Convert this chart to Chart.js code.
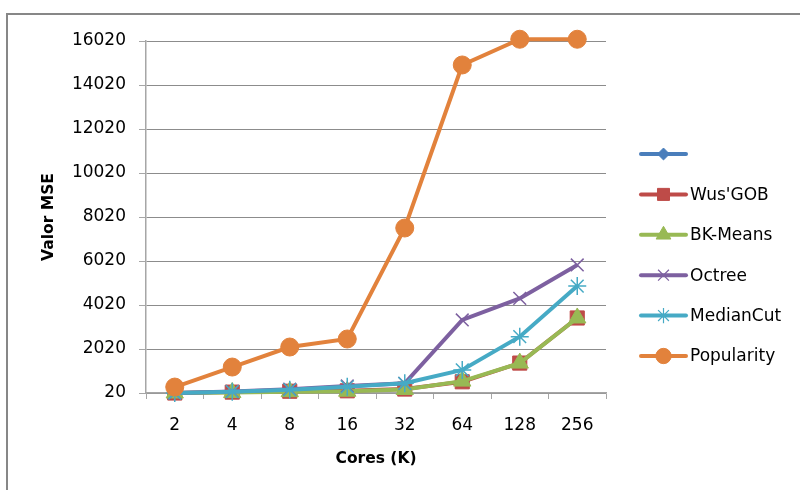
<!DOCTYPE html>
<html>
<head>
<meta charset="utf-8">
<script src="https://cdn.jsdelivr.net/npm/chart.js@4.4.1/dist/chart.umd.min.js"></script>
<style>
  html, body { margin: 0; padding: 0; background: #ffffff; }
  #wrap { width: 800px; height: 490px; position: relative; }
</style>
</head>
<body>
<div id="wrap"><canvas id="c" width="800" height="490"></canvas></div>
<script>
// ---- data ----
const categories = ['2', '4', '8', '16', '32', '64', '128', '256'];
const yTickValues = [20, 2020, 4020, 6020, 8020, 10020, 12020, 14020, 16020];
const seriesNames = ['', "Wus'GOB", 'BK-Means', 'Octree', 'MedianCut', 'Popularity'];
const blankSeries = [null, null, null, null, null, null, null, null];
const wusGOB = [20, 60, 100, 120, 200, 530, 1380, 3430];
const bkMeans = [20, 40, 80, 100, 180, 560, 1380, 3430];
const octree = [20, 90, 190, 340, 460, 3340, 4320, 5840];
const medianCut = [20, 80, 170, 300, 460, 1070, 2580, 4880];
const popularity = [290, 1200, 2110, 2475, 7520, 14930, 16100, 16100];

const seriesData = [blankSeries, wusGOB, bkMeans, octree, medianCut, popularity];
const lineColors = ['#4A7EBB', '#BE4B48', '#98B954', '#7D60A0', '#46AAC5', '#E2823C'];
const pointStyles = ['rectRot', 'rect', 'triangle', 'crossRot', 'star', 'circle'];
const pointRadii = [7, 10, 10, 9, 9, 9];

const FONT = 'DejaVu Sans';

const datasets = seriesNames.map((name, i) => {
  const cross = pointStyles[i] === 'crossRot' || pointStyles[i] === 'star';
  return {
    label: name,
    data: seriesData[i],
    borderColor: lineColors[i],
    backgroundColor: lineColors[i],
    borderWidth: 4,
    pointStyle: pointStyles[i],
    pointRadius: pointRadii[i],
    pointHoverRadius: pointRadii[i],
    pointBackgroundColor: lineColors[i],
    pointBorderColor: lineColors[i],
    pointBorderWidth: cross ? 1.5 : 1,
    tension: 0,
    clip: false,
    order: seriesNames.length - i
  };
});

const frame = {
  id: 'frame',
  beforeDraw(chart) {
    const ctx = chart.ctx;
    ctx.save();
    ctx.fillStyle = '#ffffff';
    ctx.fillRect(0, 0, chart.width, chart.height);
    ctx.strokeStyle = '#878787';
    ctx.lineWidth = 2;
    ctx.strokeRect(7, 14, 820, 520);
    ctx.restore();
  }
};

const legendPlugin = {
  id: 'customLegend',
  afterDraw(chart) {
    const ctx = chart.ctx;
    ctx.save();
    const x0 = 641, x1 = 686, tx = 690;
    const y0 = 154, step = 40.4;
    seriesNames.forEach((name, i) => {
      const y = y0 + i * step;
      ctx.strokeStyle = lineColors[i];
      ctx.lineWidth = 4;
      ctx.lineCap = 'round';
      ctx.beginPath();
      ctx.moveTo(x0, y);
      ctx.lineTo(x1, y);
      ctx.stroke();
      ctx.fillStyle = lineColors[i];
      ctx.strokeStyle = lineColors[i];
      const cross = pointStyles[i] === 'crossRot' || pointStyles[i] === 'star';
      ctx.lineWidth = cross ? 1.2 : 1;
      ctx.lineCap = 'butt';
      Chart.helpers.drawPoint(ctx, {pointStyle: pointStyles[i], radius: pointRadii[i] * 0.85, rotation: 0, borderWidth: ctx.lineWidth}, (x0 + x1) / 2, y);
      ctx.fillStyle = '#000000';
      ctx.font = '17px "' + FONT + '"';
      ctx.textBaseline = 'middle';
      ctx.textAlign = 'left';
      ctx.fillText(name, tx, y + 1);
    });
    ctx.restore();
  }
};

new Chart(document.getElementById('c'), {
  type: 'line',
  data: { labels: categories, datasets: datasets },
  plugins: [frame, legendPlugin],
  options: {
    responsive: false,
    animation: false,
    events: [],
    layout: { padding: { left: 0, right: 194, top: 41, bottom: 0 } },
    plugins: { legend: { display: false }, tooltip: { enabled: false } },
    scales: {
      x: {
        type: 'category',
        offset: true,
        afterFit(s) { s.height = 97; },
        grid: { display: true, drawOnChartArea: false, drawTicks: true, tickLength: 6, color: '#a6a6a6', offset: true },
        border: { display: true, color: '#a6a6a6', width: 1.5 },
        ticks: { color: '#000000', font: { family: FONT, size: 17 }, padding: 16, maxRotation: 0, autoSkip: false },
        title: { display: true, text: 'Cores (K)', color: '#000000', font: { family: FONT, size: 15.5, weight: 'bold' }, padding: { top: 0, bottom: 22 } }
      },
      y: {
        type: 'linear',
        min: 20,
        max: 16020,
        afterFit(s) { s.width = 146; },
        afterBuildTicks(s) { s.ticks = yTickValues.map(v => ({ value: v })); },
        grid: { color: '#8c8c8c', lineWidth: 1, drawTicks: true, tickLength: 7, tickColor: '#a6a6a6' },
        border: { display: true, color: '#a6a6a6', width: 1.5 },
        ticks: { color: '#000000', font: { family: FONT, size: 17 }, padding: 13, callback: v => String(v) },
        title: { display: true, text: 'Valor MSE', color: '#000000', font: { family: FONT, size: 15.5, weight: 'bold' }, padding: { top: 40, bottom: 0 } }
      }
    }
  }
});
</script>
</body>
</html>
